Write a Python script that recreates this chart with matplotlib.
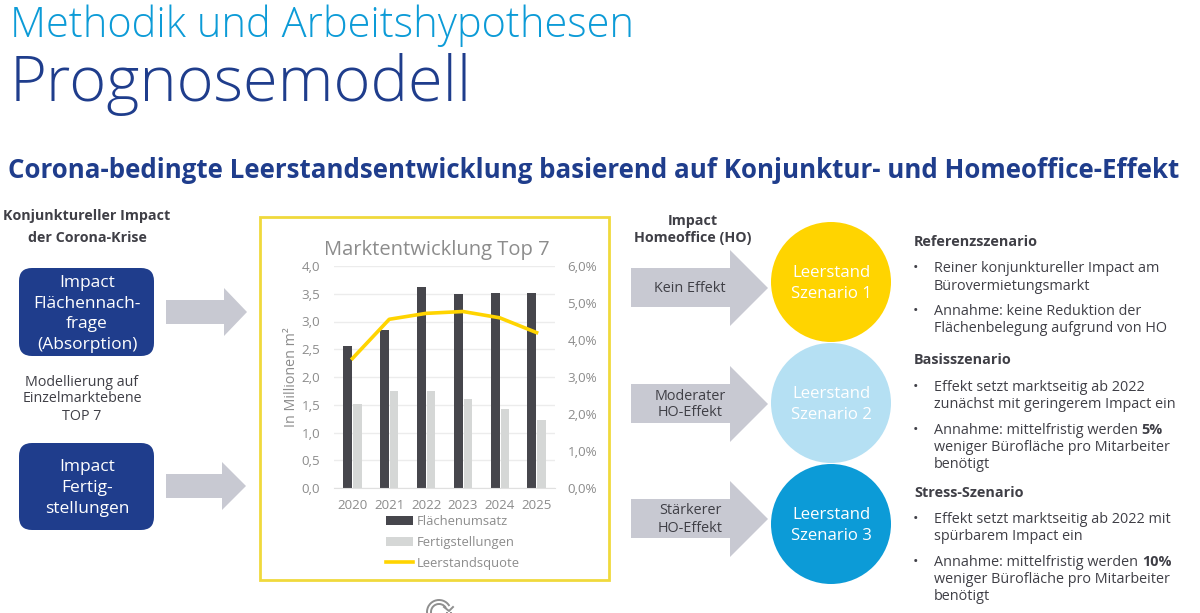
import matplotlib
matplotlib.use('Agg')
import matplotlib.pyplot as plt
import numpy as np
from matplotlib.patches import Polygon, Circle, FancyBboxPatch, Rectangle, Arc

plt.rcParams['font.family'] = ['Open Sans', 'Noto Sans', 'DejaVu Sans']

years = ['2020', '2021', '2022', '2023', '2024', '2025']
flaechenumsatz = [2.55, 2.85, 3.62, 3.50, 3.52, 3.52]
fertigstellungen = [1.52, 1.74, 1.74, 1.60, 1.42, 1.22]
leerstandsquote = [3.5, 4.56, 4.72, 4.77, 4.6, 4.2]
left_ticks = [0, 0.5, 1, 1.5, 2, 2.5, 3, 3.5, 4]
right_ticks = [0, 1, 2, 3, 4, 5, 6]

NAVY = '#1f3d8c'
BLUE = '#0c9bd7'
LIGHTBLUE = '#b5e0f3'
YELLOW = '#ffd400'
ARROW = '#c8c9d2'
DARK = '#46464c'
TEXT = '#3f3f46'
GREY = '#8c8c8c'

W, H = 1200, 613
fig = plt.figure(figsize=(W / 100, H / 100), dpi=100, facecolor='white')

# whole slide in pixel coordinates
bg = fig.add_axes([0, 0, 1, 1])
bg.set_xlim(0, W)
bg.set_ylim(H, 0)
bg.axis('off')


def arrow(x0, x1, xhead, ytop, ybot, ybody0, ybody1):
    ymid = (ytop + ybot) / 2
    pts = [(x0, ybody0), (xhead, ybody0), (xhead, ytop), (x1, ymid),
           (xhead, ybot), (xhead, ybody1), (x0, ybody1)]
    bg.add_patch(Polygon(pts, closed=True, fc=ARROW, ec='none'))


def box(x0, y0, x1, y1):
    r = 13
    bg.add_patch(FancyBboxPatch((x0 + r, y0 + r), x1 - x0 - 2 * r, y1 - y0 - 2 * r,
                                boxstyle='round,pad=%d,rounding_size=%d' % (r, r),
                                fc=NAVY, ec='none'))


# headings
bg.text(10, 26, 'Methodik und Arbeitshypothesen', color=BLUE, fontsize=30, va='center', fontweight='light')
bg.text(10, 84, 'Prognosemodell', color=NAVY, fontsize=45.5, va='center', fontweight='light')
bg.text(8, 171, 'Corona-bedingte Leerstandsentwicklung basierend auf Konjunktur- und Homeoffice-Effekt',
        color=NAVY, fontsize=18.64, va='center', fontweight='bold')

# left column
bg.text(87, 216, 'Konjunktureller Impact', color=TEXT, fontsize=10.3, fontweight='bold', ha='center', va='center')
bg.text(87, 238, 'der Corona-Krise', color=TEXT, fontsize=10.3, fontweight='bold', ha='center', va='center')
box(19, 268, 154, 356)
box(19, 443, 154, 530)
for y, s in zip([283, 304, 324, 345], ['Impact', 'Flächennach-', 'frage', '(Absorption)']):
    bg.text(87, y, s, color='white', fontsize=12.5, ha='center', va='center')
for y, s in zip([467, 488, 509], ['Impact', 'Fertig-', 'stellungen']):
    bg.text(87, y, s, color='white', fontsize=12.5, ha='center', va='center')
for y, s in zip([382, 399, 416], ['Modellierung auf', 'Einzelmarktebene', 'TOP 7']):
    bg.text(82, y, s, color=TEXT, fontsize=10.3, ha='center', va='center')
arrow(166, 247, 224, 288, 336, 300, 324)
arrow(166, 246, 222, 462, 510, 474, 498)

# chart frame
bg.add_patch(Rectangle((259.5, 217), 349, 363, fc='white', ec='#f0d93c', lw=2))

# middle column
bg.text(693, 221, 'Impact', color=TEXT, fontsize=10.3, fontweight='bold', ha='center', va='center')
bg.text(693, 238, 'Homeoffice (HO)', color=TEXT, fontsize=10.3, fontweight='bold', ha='center', va='center')
arrow(631, 768, 730, 250, 326, 268, 307)
arrow(631, 768, 730, 366, 442, 384, 423)
arrow(631, 768, 730, 481, 557, 499, 538)
bg.text(690, 288, 'Kein Effekt', color=TEXT, fontsize=10.4, ha='center', va='center')
bg.text(690, 396, 'Moderater', color=TEXT, fontsize=10.4, ha='center', va='center')
bg.text(690, 413, 'HO-Effekt', color=TEXT, fontsize=10.4, ha='center', va='center')
bg.text(690, 511, 'Stärkerer', color=TEXT, fontsize=10.4, ha='center', va='center')
bg.text(690, 528, 'HO-Effekt', color=TEXT, fontsize=10.4, ha='center', va='center')

for yc, col, n in zip([282, 403, 524], [YELLOW, LIGHTBLUE, BLUE], [1, 2, 3]):
    bg.add_patch(Circle((831, yc), 60, fc=col, ec='none'))
    bg.text(831, yc - 9, 'Leerstand', color='white', fontsize=12.1, ha='center', va='center')
    bg.text(831, yc + 12, 'Szenario %d' % n, color='white', fontsize=12.1, ha='center', va='center')

# right column, baseline = line centre + 5
for y, s in [(241, 'Referenzszenario'), (359, 'Basisszenario'), (492, 'Stress-Szenario')]:
    bg.text(914, y + 5, s, color=TEXT, fontsize=10.4, fontweight='bold', va='baseline')
for y, s in [(267, 'Reiner konjunktureller Impact am'), (285, 'Bürovermietungsmarkt'),
             (310, 'Annahme: keine Reduktion der'), (327, 'Flächenbelegung aufgrund von HO'),
             (386, 'Effekt setzt marktseitig ab 2022'), (403, 'zunächst mit geringerem Impact ein'),
             (429, 'Annahme: mittelfristig werden'), (446, 'weniger Bürofläche pro Mitarbeiter'),
             (463, 'benötigt'),
             (518, 'Effekt setzt marktseitig ab 2022 mit'), (535, 'spürbarem Impact ein'),
             (561, 'Annahme: mittelfristig werden'), (578, 'weniger Bürofläche pro Mitarbeiter'),
             (595, 'benötigt')]:
    bg.text(934, y + 5, s, color=TEXT, fontsize=10.35, va='baseline')
for y in [267, 310, 386, 429, 518, 561]:
    bg.text(916, y + 5, '•', color=TEXT, fontsize=10.35, ha='center', va='baseline')
bg.text(1141, 434, '5%', color=TEXT, fontsize=10.35, fontweight='bold', va='baseline')
bg.text(1142, 566, '10%', color=TEXT, fontsize=10.35, fontweight='bold', va='baseline')

# cut off reload icon at the bottom
for r in [12, 8]:
    bg.add_patch(Arc((439, 612), 2 * r, 2 * r, theta1=0, theta2=330, ec='#8f8f8f', lw=1.4))
bg.plot([444, 449, 453], [607, 611, 607], color='#8f8f8f', lw=1.4)

# chart
ax = fig.add_axes([334 / W, 1 - 488 / H, 221 / W, 222 / H])
ax.patch.set_alpha(0)
x = np.arange(len(years))
bars1 = ax.bar(x - 0.125, flaechenumsatz, width=0.245, color=DARK, zorder=2)
bars2 = ax.bar(x + 0.135, fertigstellungen, width=0.225, color='#d5d7d6', zorder=2)
ax.set_xlim(-0.5, 5.5)
ax.set_ylim(0, 4)
ax.set_xticks(x)
ax.set_xticklabels(years)
ax.set_yticks(left_ticks)
ax.set_yticklabels([('%.1f' % v).replace('.', ',') for v in left_ticks])
ax.tick_params(length=0, colors=GREY, labelsize=9.6)
ax.tick_params(axis='y', pad=10)
ax.tick_params(axis='x', pad=8)
ax.grid(axis='y', color='#ececec', lw=1, zorder=0)
for s in ['top', 'left', 'right']:
    ax.spines[s].set_visible(False)
ax.spines['bottom'].set_color('#e0e0e0')
ax.set_ylabel('In Millionen m²', color=GREY, fontsize=10.3, labelpad=2)

ax2 = ax.twinx()
line, = ax2.plot(x, leerstandsquote, color=YELLOW, lw=2.6, zorder=3)
ax2.set_ylim(0, 6)
ax2.set_yticks(right_ticks)
ax2.set_yticklabels(['%d,0%%' % v for v in right_ticks])
ax2.tick_params(length=0, colors=GREY, labelsize=9.6, pad=9)
for s in ['top', 'left', 'right', 'bottom']:
    ax2.spines[s].set_visible(False)

bg.text(437, 250, 'Marktentwicklung Top 7', color=GREY, fontsize=14.5, ha='center', va='center')

leg = fig.legend([bars1, bars2, line], ['Flächenumsatz', 'Fertigstellungen', 'Leerstandsquote'],
                 loc='upper left', bbox_to_anchor=(386 / W, 1 - 515 / H), frameon=False,
                 fontsize=9.4, labelcolor=GREY, handlelength=2.05, handletextpad=0.3,
                 labelspacing=0.6, borderpad=0, borderaxespad=0)

fig.savefig('out.png', dpi=100)
